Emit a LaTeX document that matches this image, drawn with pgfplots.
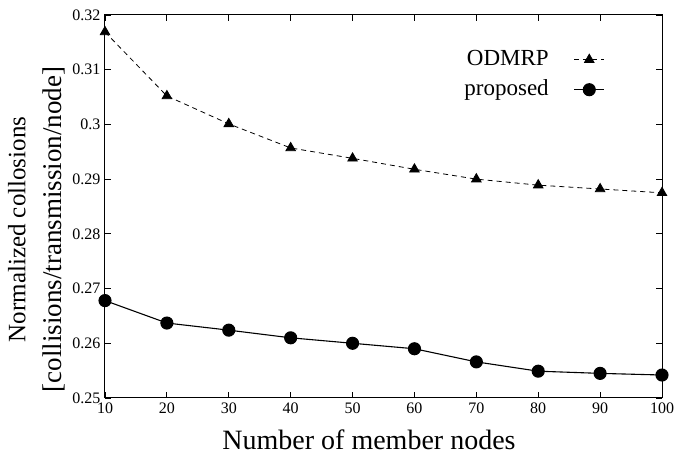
\documentclass[border=0pt]{standalone}
\usepackage{fontspec}
\setmainfont{Liberation Serif}
\usepackage{pgfplots}
\pgfplotsset{compat=1.18}
\begin{document}
\begin{tikzpicture}[x=1pt,y=1pt]
\begin{axis}[
  name=ax,
  scale only axis,
  width=557pt, height=383pt,
  xmin=10, xmax=100, ymin=0.25, ymax=0.32,
  xtick={10,20,...,100},
  ytick={0.25,0.26,0.27,0.28,0.29,0.3,0.31,0.32},
  yticklabel style={/pgf/number format/fixed,/pgf/number format/precision=2, xshift=-1pt},
  xticklabel style={yshift=-1pt},
  /pgf/number format/assume math mode=true,
  tick align=inside,
  major tick length=6pt,
  tick style={black, line width=0.8pt},
  axis line style={line width=1pt},
  tick label style={font=\fontsize{16}{18}\selectfont},
  xlabel={Number of member nodes},
  ylabel={{\fontsize{25}{36}\selectfont Normalized collosions\hspace{22pt}}\\{\fontsize{27}{36}\selectfont {[}collisions/transmission/node{]}}},
  ylabel style={align=center, font=\fontsize{27}{36}\selectfont,
    at={(axis description cs:-0.1230,0.440)}, anchor=center},
  xlabel style={font=\fontsize{28}{30}\selectfont,
    at={(axis description cs:0.474,0)}, anchor=base, yshift=-52pt},
  legend plot pos=right,
  legend cell align=right,
  legend style={draw=none, fill=none, inner sep=0pt,
    at={(axis description cs:0.8977,0.9112)}, anchor=north east,
    font=\fontsize{23}{25}\selectfont, row sep=9pt,
    nodes={inner sep=0pt, text height=16pt, text depth=5pt}},
  legend image code/.code={\path (0pt,0pt); \draw[#1] (25pt,0pt) -- (55pt,0pt); \draw[#1, solid] plot coordinates {(40pt,0pt)};},
]
\addplot[black, dash pattern=on 5pt off 4pt, line width=0.8pt, mark=triangle*, mark size=5.5pt, mark options={solid}]
coordinates {(10,0.3169) (20,0.3052) (30,0.3001) (40,0.2957) (50,0.2938) (60,0.2918) (70,0.2900) (80,0.2889) (90,0.2882) (100,0.2875)};
\addlegendentry{ODMRP}
\addplot[black, solid, line width=1.1pt, mark=*, mark size=6pt]
coordinates {(10,0.2678) (20,0.2637) (30,0.2624) (40,0.2610) (50,0.2600) (60,0.2590) (70,0.2566) (80,0.2549) (90,0.2545) (100,0.2542)};
\addlegendentry{proposed}
\end{axis}
\pgfresetboundingbox
\path ([shift={(-105pt,-58pt)}]ax.south west) rectangle ([shift={(14pt,15pt)}]ax.north east);
\end{tikzpicture}
\end{document}
